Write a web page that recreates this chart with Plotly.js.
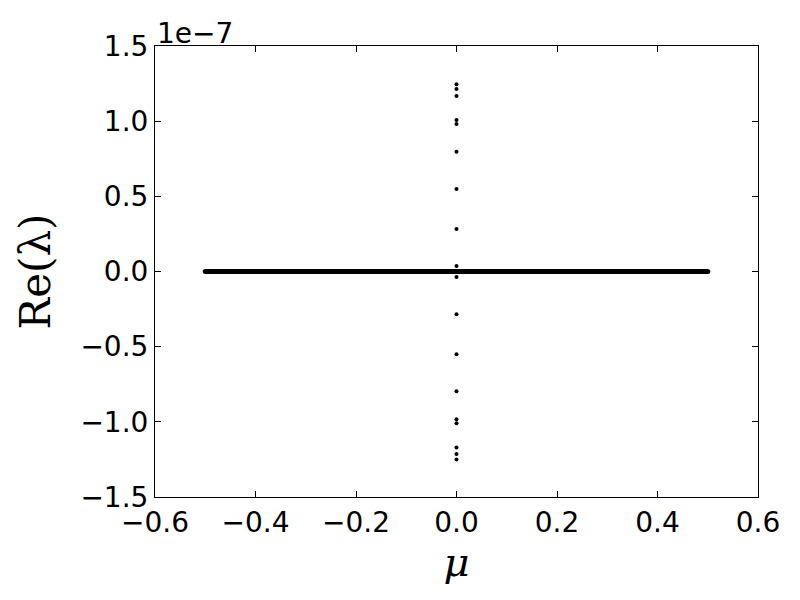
<!DOCTYPE html>
<html>
<head>
<meta charset="utf-8">
<script src="https://cdn.plot.ly/plotly-3.0.1.min.js"></script>
<style>html,body{margin:0;padding:0;background:#fff;}#chart{width:800px;height:600px;}</style>
</head>
<body>
<div id="chart"></div>
<script>
// Re(lambda) values in units of 1e-7
const muBand = [-0.5, 0.5];
const reBand = [0, 0];
const muSpike = [0, 0, 0, 0, 0, 0, 0, 0, 0, 0, 0, 0, 0, 0, 0, 0, 0, 0, 0, 0];
const reSpike = [1.245, 1.214, 1.168, 1.008, 0.981, 0.797, 0.549, 0.283, 0.037,
                 -0.037, -0.285, -0.551, -0.797, -0.983, -1.01, -1.17, -1.214, -1.25, 0, 0];
const xTicks = [-0.6, -0.4, -0.2, 0.0, 0.2, 0.4, 0.6];
const xTickText = ["\u22120.6", "\u22120.4", "\u22120.2", "0.0", "0.2", "0.4", "0.6"];
const yTicks = [-1.5, -1.0, -0.5, 0.0, 0.5, 1.0, 1.5];
const yTickText = ["\u22121.5", "\u22121.0", "\u22120.5", "0.0", "0.5", "1.0", "1.5"];

const traces = [
  {x: muBand, y: reBand, mode: 'lines+markers', line: {color: '#000', width: 5},
   marker: {color: '#000', size: 5}, hoverinfo: 'skip'},
  {x: muSpike, y: reSpike, mode: 'markers', marker: {color: '#000', size: 4}}
];

const tickFont = {family: 'DejaVu Sans', size: 28, color: '#000'};
const layout = {
  width: 800, height: 600,
  margin: {l: 155, r: 42, t: 46, b: 103},
  paper_bgcolor: '#fff', plot_bgcolor: '#fff',
  showlegend: false,
  xaxis: {range: [-0.6, 0.6], tickvals: xTicks, ticktext: xTickText, ticks: 'inside', ticklen: 6,
          tickcolor: '#000', mirror: 'allticks', showline: true, linecolor: '#000', linewidth: 1,
          showgrid: false, zeroline: false, tickfont: tickFont,
          title: {text: '\u03bc', font: {family: 'DejaVu Serif', size: 40, color: '#000', style: 'italic'}, standoff: 6}},
  yaxis: {range: [-1.5, 1.5], tickvals: yTicks, ticktext: yTickText, ticks: 'inside', ticklen: 6,
          tickcolor: '#000', mirror: 'allticks', showline: true, linecolor: '#000', linewidth: 1,
          showgrid: false, zeroline: false, tickfont: tickFont,
          title: {text: 'Re(\u03bb)', font: {family: 'DejaVu Serif', size: 42, color: '#000'}, standoff: 16}},
  annotations: [{text: '1e\u22127', xref: 'paper', yref: 'paper', x: 0, y: 1, xanchor: 'left', yanchor: 'bottom',
                 showarrow: false, font: tickFont, yshift: -6}]
};
Plotly.newPlot('chart', traces, layout, {staticPlot: true});
</script>
</body>
</html>
